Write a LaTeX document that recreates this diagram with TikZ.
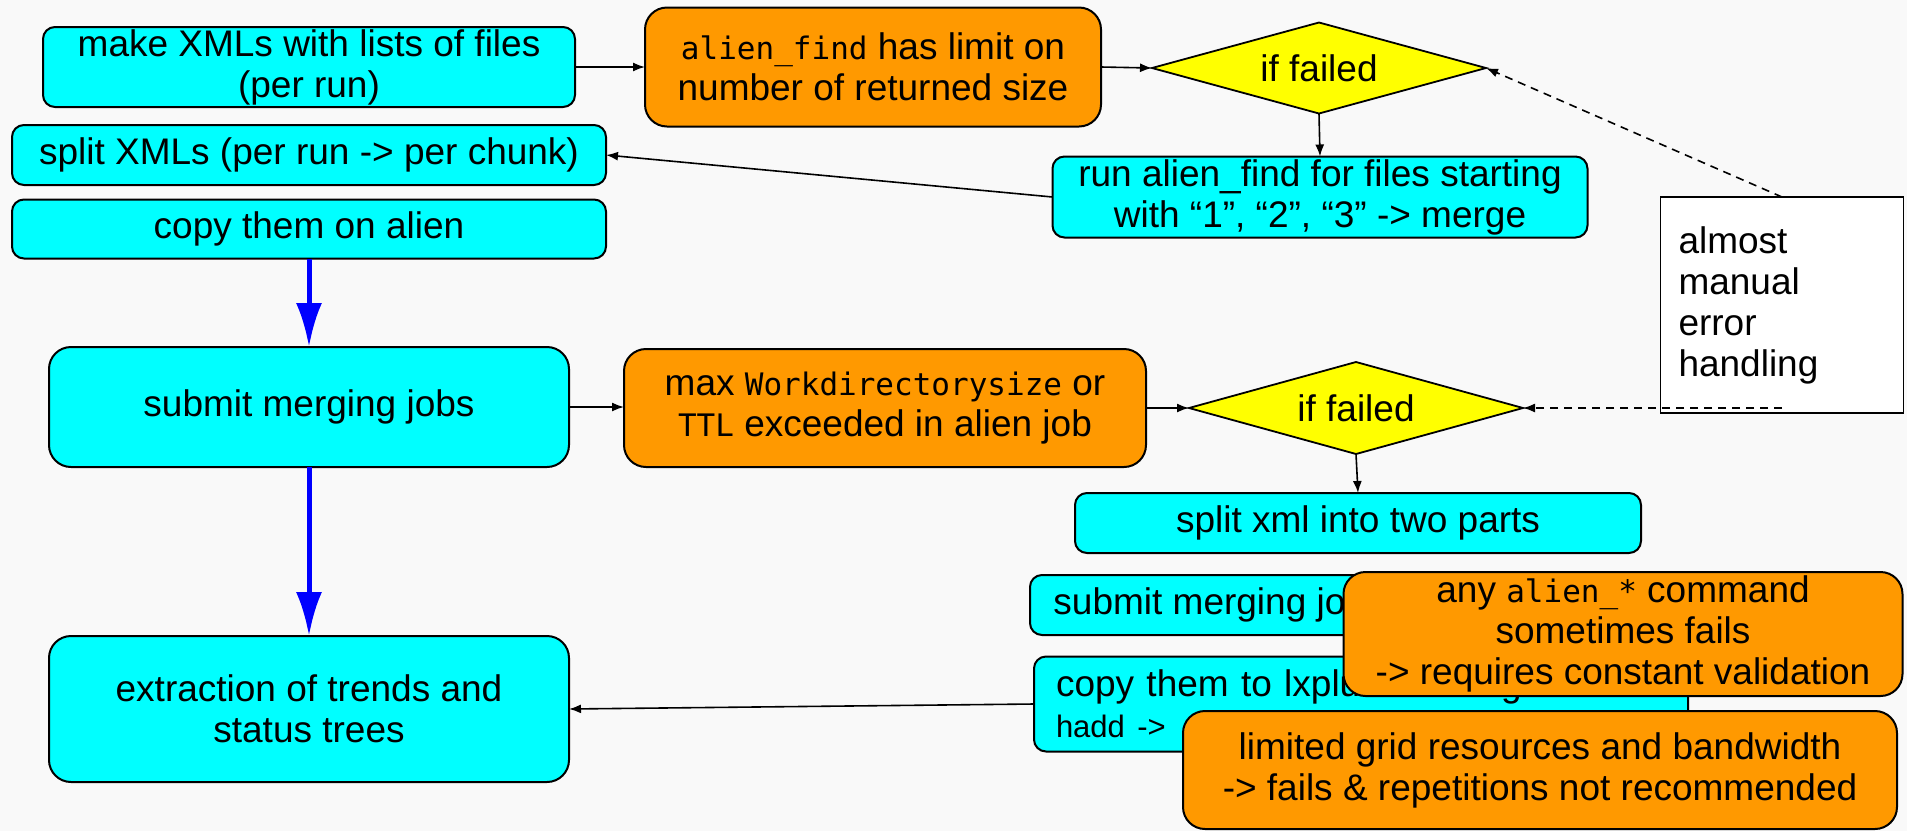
\documentclass[tikz,border=0pt]{standalone}
\usepackage{fontspec}
\setmainfont{Liberation Sans}
\newfontfamily\monof{DejaVu Sans Mono}
\usetikzlibrary{shapes.geometric,arrows.meta}
\definecolor{bgc}{RGB}{249,249,249}
\definecolor{cyc}{RGB}{0,255,255}
\definecolor{orc}{RGB}{255,153,0}
\definecolor{yec}{RGB}{255,255,0}
\newcommand{\mtt}[1]{{\monof\fontsize{31}{41}\selectfont #1}}
\newcommand{\smtxt}[1]{{\fontsize{31}{41}\selectfont #1}}
\begin{document}
\begin{tikzpicture}[x=1pt,y=-1pt,
  every node/.style={font=\fontsize{37}{41}\selectfont, inner sep=0pt, outer sep=0pt},
  basebox/.style={draw=black, line width=2pt, align=center},
  cbox/.style={basebox, fill=cyc, rounded corners=12pt},
  cbig/.style={basebox, fill=cyc, rounded corners=22pt},
  obox/.style={basebox, fill=orc, rounded corners=22pt},
  dia/.style={basebox, diamond, aspect=3.67, fill=yec, line width=1.8pt},
  notebox/.style={draw=black, line width=1.6pt, fill=white, align=left},
  arr/.style={line width=1.6pt, -{Latex[length=12pt,width=9pt]}},
  darr/.style={arr, dash pattern=on 8pt off 6pt},
  barr/.style={draw=blue, line width=5pt, -{Latex[length=44pt,width=26pt]}}
]
\fill[bgc] (0,0) rectangle (1907,831);
\useasboundingbox (0,0) rectangle (1907,831);

% left column
\node[cbox, minimum width=532pt, minimum height=80pt] (mk) at (309,67) {make XMLs with lists of files\\(per run)};
\node[cbox, minimum width=594pt, minimum height=60pt] (spl) at (309,155) {split XMLs (per run -> per chunk)};
\node[cbox, minimum width=594pt, minimum height=59pt] (cpa) at (309,229) {copy them on alien};
\node[cbig, minimum width=520pt, minimum height=120pt] (sub) at (309,407) {submit merging jobs};
\node[cbig, minimum width=520pt, minimum height=146pt] (ext) at (309,709) {extraction of trends and\\status trees};

% top row
\node[obox, minimum width=456pt, minimum height=119pt] (lim) at (873,67) {\mtt{alien\_find} has limit on\\number of returned size};
\node[dia, minimum width=334pt, minimum height=91pt] (if1) at (1319,68) {if failed};
\node[cbox, minimum width=535pt, minimum height=81pt] (run) at (1320,197) {run alien\_find for files starting\\with “1”, “2”, “3” -> merge};

% note
\node[notebox, minimum height=216pt, text width=207pt, inner xsep=18pt] (note) at (1782,305) {almost\\manual\\error\\handling};

% middle row
\node[obox, minimum width=522pt, minimum height=118pt] (max) at (885,408) {max \mtt{Workdirectorysize} or\\\mtt{TTL} exceeded in alien job};
\node[dia, minimum width=334pt, minimum height=92pt] (if2) at (1356,408) {if failed};
\node[cbox, minimum width=566pt, minimum height=60pt] (two) at (1358,523) {split xml into two parts};
\node[cbox, minimum width=378pt, minimum height=60pt] (sub2) at (1219,605) {submit merging jobs};
\node[cbox, minimum height=95pt, text width=610pt, inner xsep=22pt, align=left] (cpl) at (1361,704) {copy them to lxplus -> merge with\\\smtxt{hadd ->}};
\node[obox, minimum width=559pt, minimum height=124pt] (any) at (1623,634) {any \mtt{alien\_*} command\\sometimes fails\\-> requires constant validation};
\node[obox, minimum width=714pt, minimum height=118pt] (grid) at (1540,770) {limited grid resources and bandwidth\\-> fails \& repetitions not recommended};

% connectors
\draw[arr] (mk.east) -- (mk.east -| lim.west);
\draw[arr] (lim.east) -- (if1.west);
\draw[arr] (if1.south) -- (run.north);
\draw[arr] (run.west) -- (spl.east);
\draw[barr] (cpa.south) -- (sub.north);
\draw[barr] (sub.south) -- (ext.north);
\draw[arr] (sub.east) -- (sub.east -| max.west);
\draw[arr] (max.east) -- (if2.west);
\draw[arr] (if2.south) -- (two.north);
\draw[arr] (cpl.west) -- (ext.east);
\coordinate (nb) at (note.south |- if2.east);
\draw[darr] (note.north) -- (if1.east);
\draw[darr] (nb) -- (if2.east);
\end{tikzpicture}
\end{document}
